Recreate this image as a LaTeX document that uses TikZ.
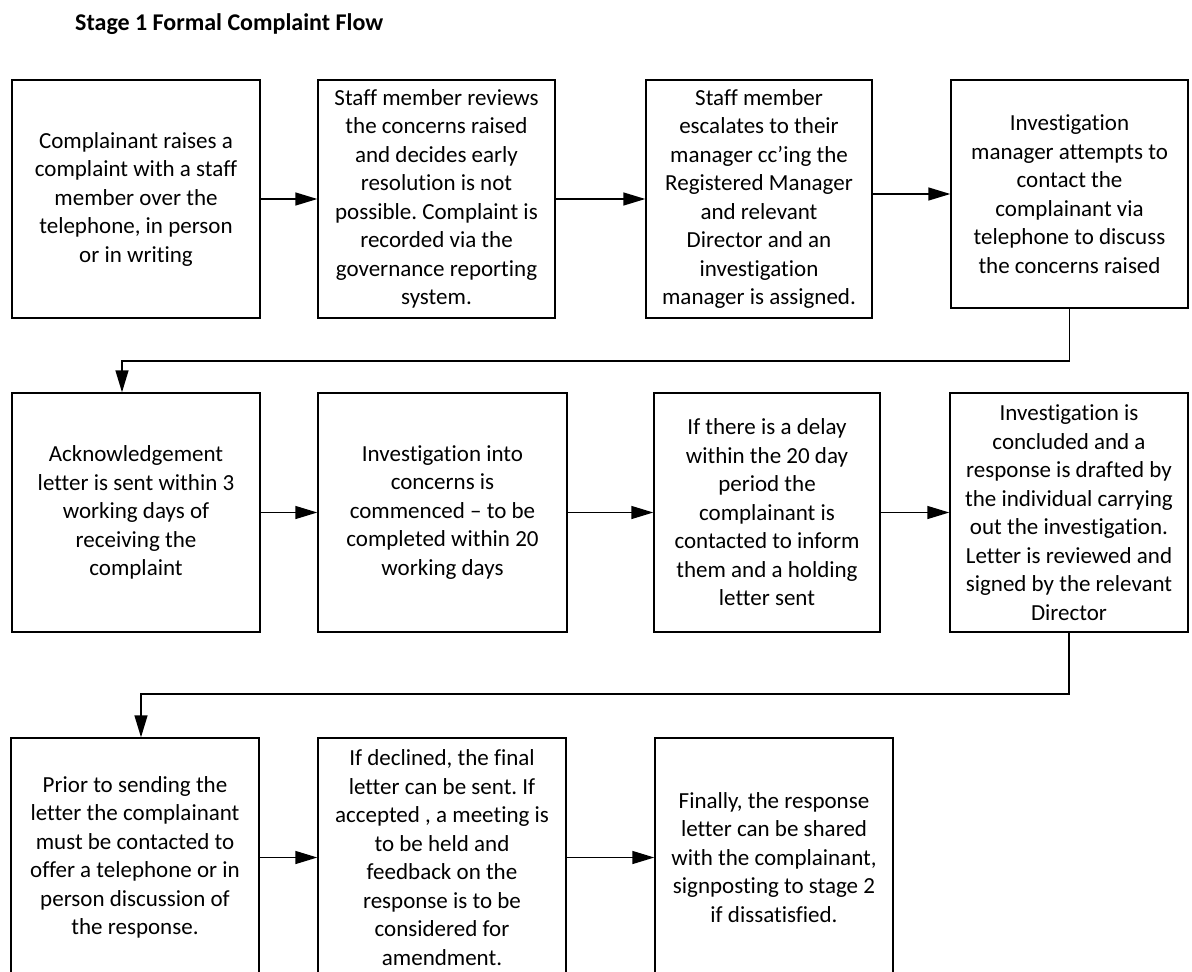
\documentclass[tikz,border=0pt]{standalone}
\usepackage{fontspec}
\setmainfont{Carlito}[Ligatures=NoCommon]
\usetikzlibrary{arrows.meta}
\frenchspacing
\begin{document}
\begin{tikzpicture}[x=1pt,y=-1pt,
  box/.style={draw=black, line width=1.4pt, rectangle, inner sep=0pt, align=center,
    font=\fontsize{23}{28.5}\selectfont, text=black},
  arr/.style={-{Triangle[length=22pt,width=13pt]}, line width=1.4pt, draw=black},
  ttl/.style={anchor=base west, inner sep=0pt, font=\fontsize{24}{29}\selectfont\bfseries}]
\useasboundingbox (0,0) rectangle (1192,972);
\clip (0,0) rectangle (1192,972);

\node[ttl] (title) at (75,30) {Stage 1 Formal Complaint Flow};

% row 1
\node[box, minimum width=248, minimum height=238] (b1) at (136,199)
  {Complainant raises a\\complaint with a staff\\member over the\\telephone, in person\\or in writing};
\node[box, minimum width=237, minimum height=238] (b2) at (436.5,199)
  {Staff member reviews\\the concerns raised\\and decides early\\resolution is not\\possible. Complaint is\\recorded via the\\governance reporting\\system.};
\node[box, minimum width=226, minimum height=238] (b3) at (759,199)
  {Staff member\\escalates to their\\manager cc’ing the\\Registered Manager\\and relevant\\Director and an\\investigation\\manager is assigned.};
\node[box, minimum width=237, minimum height=228] (b4) at (1069.5,194)
  {Investigation\\manager attempts to\\contact the\\complainant via\\telephone to discuss\\the concerns raised};

% row 2
\node[box, minimum width=248, minimum height=239] (b5) at (136,512.5)
  {Acknowledgement\\letter is sent within 3\\working days of\\receiving the\\complaint};
\node[box, minimum width=249, minimum height=239] (b6) at (442.5,512.5)
  {Investigation into\\concerns is\\commenced – to be\\completed within 20\\working days};
\node[box, minimum width=226, minimum height=239] (b7) at (767,512.5)
  {If there is a delay\\within the 20 day\\period the\\complainant is\\contacted to inform\\them and a holding\\letter sent};
\node[box, minimum width=238, minimum height=239] (b8) at (1069,512.5)
  {Investigation is\\concluded and a\\response is drafted by\\the individual carrying\\out the investigation.\\Letter is reviewed and\\signed by the relevant\\Director};

% row 3
\node[box, minimum width=248, minimum height=239] (b9) at (135,857.5)
  {Prior to sending the\\letter the complainant\\must be contacted to\\offer a telephone or in\\person discussion of\\the response.};
\node[box, minimum width=248, minimum height=239] (b10) at (442,857.5)
  {If declined, the final\\letter can be sent. If\\accepted , a meeting is\\to be held and\\feedback on the\\response is to be\\considered for\\amendment.};
\node[box, minimum width=238, minimum height=239] (b11) at (774,857.5)
  {Finally, the response\\letter can be shared\\with the complainant,\\signposting to stage 2\\if dissatisfied.};

% connectors
\draw[arr] (b1.east) -- (b2.west);
\draw[arr] (b2.east) -- (b3.west);
\draw[arr] (b3.east |- b4.west) -- (b4.west);
\coordinate (k1) at (122,361);
\draw[arr] (b4.south) |- (k1) -- (k1 |- b5.north);
\draw[arr] (b5.east) -- (b6.west);
\draw[arr] (b6.east) -- (b7.west);
\draw[arr] (b7.east) -- (b8.west);
\coordinate (k2) at (141,694);
\draw[arr] (b8.south) |- (k2) -- (k2 |- b9.north);
\draw[arr] (b9.east) -- (b10.west);
\draw[arr] (b10.east) -- (b11.west);
\end{tikzpicture}
\end{document}
